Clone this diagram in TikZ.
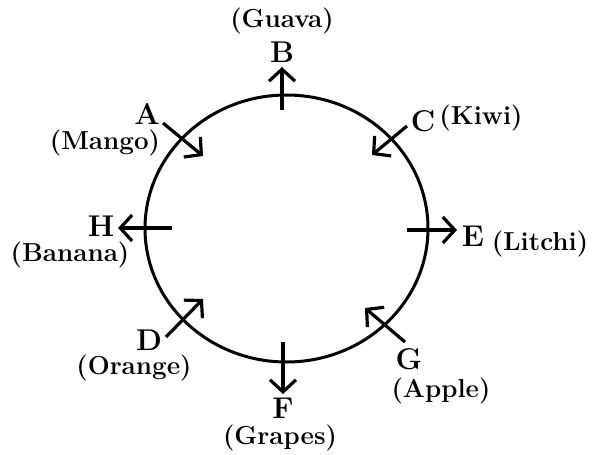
\documentclass[tikz,border=0pt]{standalone}
\usepackage{fontspec}
\usetikzlibrary{arrows.meta,positioning}
\begin{document}
\begin{tikzpicture}[x=1pt,y=-1pt, every node/.style={inner sep=0pt}, lab/.style={font=\fontsize{30}{30}\selectfont\bfseries}, fruit/.style={font=\fontsize{26}{26}\selectfont\bfseries}, arr/.style={-{Straight Barb[length=12pt,width=26pt]},line width=3.2pt}]
\useasboundingbox (0,0) rectangle (592,455);
\draw[line width=3pt] (286.5,228.5) ellipse [x radius=141.5pt, y radius=133.5pt];
% seats and the fruits
\node[lab] (A) at (147,114) {A};
\node[fruit] (mango) at (105,143) {(Mango)};
\node[lab] (B) at (282,52) {B};
\node[fruit] (guava) at (282,21) {(Guava)};
\node[lab] (C) at (423,121) {C};
\node[fruit] (kiwi) at (481,118) {(Kiwi)};
\node[lab] (E) at (473,236) {E};
\node[fruit] (litchi) at (540,244) {(Litchi)};
\node[lab] (G) at (409,359) {G};
\node[fruit] (apple) at (441,391) {(Apple)};
\node[lab] (F) at (283,408) {F};
\node[fruit] (grapes) at (280,438) {(Grapes)};
\node[lab] (D) at (149,340) {D};
\node[fruit] (orange) at (134,368) {(Orange)};
\node[lab] (H) at (101,226) {H};
\node[fruit] (banana) at (70,255) {(Banana)};
% facing directions
\coordinate (a0) at (163,123); \coordinate (a1) at (203,156);
\coordinate (b0) at (282,110); \coordinate (b1) at (282,67);
\coordinate (c0) at (407,126); \coordinate (c1) at (372,155);
\coordinate (e0) at (407,230); \coordinate (e1) at (457,230);
\coordinate (g0) at (405,342); \coordinate (g1) at (365,308);
\coordinate (f0) at (283,342); \coordinate (f1) at (283,394);
\coordinate (d0) at (166,337); \coordinate (d1) at (203,299);
\coordinate (h0) at (172,228); \coordinate (h1) at (118,228);
\draw[arr] (a0)--(a1); \draw[arr] (b0)--(b1);
\draw[arr] (c0)--(c1); \draw[arr] (e0)--(e1);
\draw[arr] (g0)--(g1); \draw[arr] (f0)--(f1);
\draw[arr] (d0)--(d1); \draw[arr] (h0)--(h1);
\end{tikzpicture}
\end{document}
